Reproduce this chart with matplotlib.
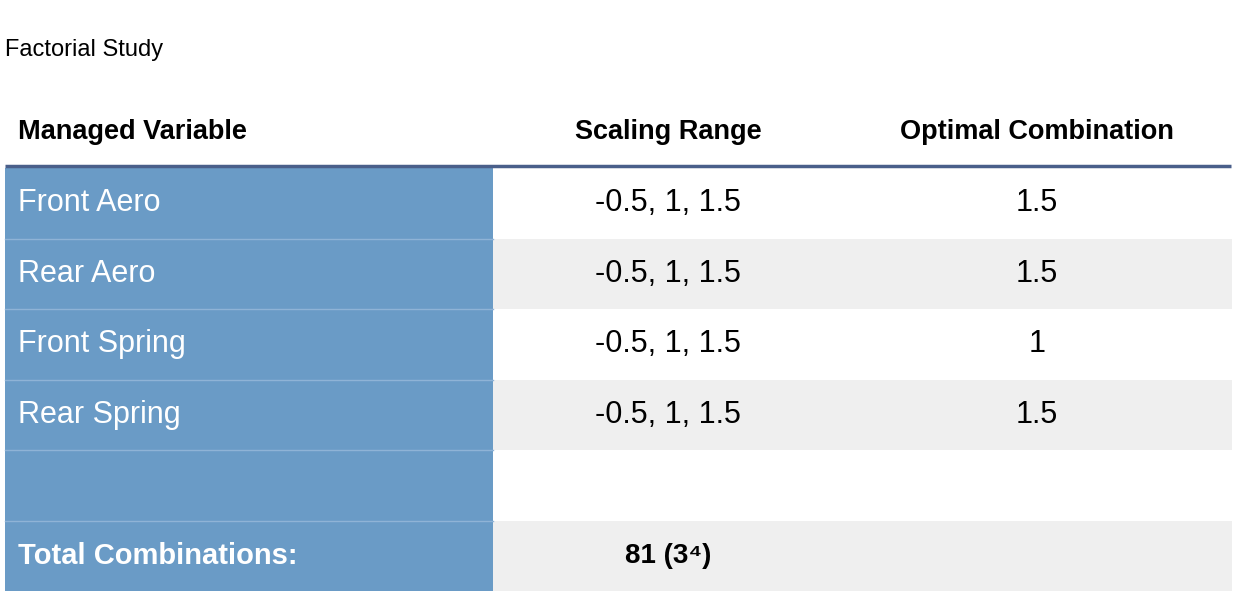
import matplotlib
matplotlib.use("Agg")
import matplotlib.pyplot as plt
from matplotlib.patches import Rectangle

title = "Factorial Study"
headers = ["Managed Variable", "Scaling Range", "Optimal Combination"]
variables = ["Front Aero", "Rear Aero", "Front Spring", "Rear Spring", "", "Total Combinations:"]
ranges = ["-0.5, 1, 1.5"] * 4 + ["", "81 (3\u2074)"]
optimal = ["1.5", "1.5", "1", "1.5", "", ""]

plt.rcParams['font.family'] = ['Liberation Sans', 'DejaVu Sans']
W, H = 1238, 599
fig = plt.figure(figsize=(W/100, H/100), dpi=100)
ax = fig.add_axes([0, 0, 1, 1])
ax.set_xlim(0, W); ax.set_ylim(H, 0); ax.axis('off')

ax.text(5, 50, title, fontsize=17, va='center', ha='left')
hy = 132
ax.text(18, hy, headers[0], fontsize=19.5, fontweight='bold', va='center')
ax.text(668, hy, headers[1], fontsize=19.5, fontweight='bold', va='center', ha='center')
ax.text(1037, hy, headers[2], fontsize=19.5, fontweight='bold', va='center', ha='center')

top, rh = 168, 70.5
blue = '#6a9bc6'
for i in range(len(variables)):
    y0 = top + i*rh
    if i % 2 == 1:
        ax.add_patch(Rectangle((493, y0), 1232-493, rh, color='#efefef', lw=0))
    ax.add_patch(Rectangle((5, y0), 488, rh, color=blue, lw=0))
    if i > 0:
        ax.plot([5, 493], [y0, y0], color='#8fb3d6', lw=1)
    yc = y0 + rh/2
    last = i == len(variables) - 1
    fw = 'bold' if last else 'normal'
    ax.text(18, yc, variables[i], color='white', fontsize=22 if not last else 21, fontweight=fw, va='center')
    ax.text(668, yc, ranges[i], color='black', fontsize=22 if not last else 20, fontweight=fw, va='center', ha='center')
    ax.text(1037, yc, optimal[i], color='black', fontsize=22, va='center', ha='center')

ax.plot([5, 1231], [166, 166], color='#4a5f8a', lw=2.5, solid_capstyle='butt')
fig.savefig('out.png', dpi=100)
